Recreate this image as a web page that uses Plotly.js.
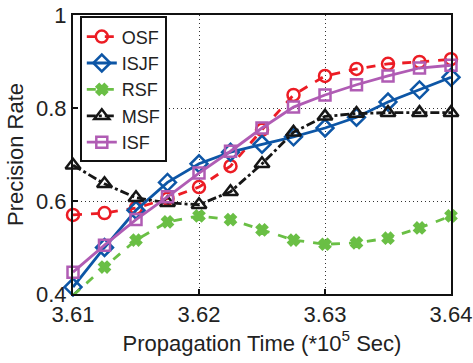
<!DOCTYPE html>
<html>
<head>
<meta charset="utf-8">
<script src="https://cdn.plot.ly/plotly-3.0.1.min.js"></script>
<style>html,body{margin:0;padding:0;background:#fff;}#chart{width:473px;height:363px;}</style>
</head>
<body>
<div id="chart"></div>
<script>
const times = [3.61, 3.6125, 3.615, 3.6175, 3.62, 3.6225, 3.625, 3.6275, 3.63, 3.6325, 3.635, 3.6375, 3.64];
const osf  = [0.57, 0.574, 0.585, 0.605, 0.63, 0.675, 0.753, 0.828, 0.869, 0.884, 0.895, 0.899, 0.905];
const isjf = [0.415, 0.50, 0.58, 0.64, 0.68, 0.705, 0.722, 0.738, 0.757, 0.78, 0.813, 0.839, 0.866];
const rsf  = [0.397, 0.458, 0.516, 0.555, 0.568, 0.56, 0.538, 0.516, 0.507, 0.51, 0.52, 0.542, 0.568];
const msf  = [0.677, 0.637, 0.607, 0.596, 0.592, 0.62, 0.68, 0.748, 0.782, 0.788, 0.79, 0.79, 0.79];
const isf  = [0.447, 0.505, 0.56, 0.609, 0.66, 0.707, 0.757, 0.802, 0.828, 0.85, 0.869, 0.886, 0.892];
const seriesNames = ['OSF', 'ISJF', 'RSF', 'MSF', 'ISF'];
const xTickVals = [3.61, 3.62, 3.63, 3.64];
const xTickText = ['3.61', '3.62', '3.63', '3.64'];
const yTickVals = [0.4, 0.6, 0.8, 1.0];
const yTickText = ['0.4', '0.6', '0.8', '1'];

const styles = [
  {color: '#ec1c24', dash: 'dash', symbol: 'circle-open', size: 12},
  {color: '#0d56a6', dash: 'solid', symbol: 'diamond-open', size: 13},
  {color: '#6abf45', dash: 'dash', symbol: 'x', size: 9},
  {color: '#161616', dash: 'dashdot', symbol: 'triangle-up-open', size: 13},
  {color: '#b05cb4', dash: 'solid', symbol: 'square-open', size: 11}
];
const data = [osf, isjf, rsf, msf, isf];
const traces = data.map((ys, i) => ({
  x: times, y: ys, name: seriesNames[i], type: 'scatter', mode: 'lines+markers',
  cliponaxis: false,
  line: {color: styles[i].color, width: 2.8, dash: styles[i].dash},
  marker: {symbol: styles[i].symbol, size: styles[i].size, color: styles[i].color,
           line: {color: styles[i].color, width: 2.5}}
}));

const font = {family: 'Liberation Sans, Arial, sans-serif', color: '#222', size: 22};
const layout = {
  width: 473, height: 363,
  margin: {l: 73, r: 22, t: 15, b: 69},
  paper_bgcolor: '#fff', plot_bgcolor: '#fff',
  font: font,
  showlegend: true,
  legend: {x: 0.018, y: 0.995, xanchor: 'left', yanchor: 'top',
           bgcolor: '#fff', bordercolor: '#111', borderwidth: 2,
           font: {family: font.family, size: 18, color: '#222'},
           tracegroupgap: 0, itemwidth: 30},
  xaxis: {
    range: [3.61, 3.64], tickvals: xTickVals, ticktext: xTickText,
    showline: true, mirror: true, linecolor: '#111', linewidth: 2,
    ticks: 'inside', ticklen: 5, tickcolor: '#111', tickwidth: 1.5,
    showgrid: true, gridcolor: '#333', griddash: '1px,3px', gridwidth: 1,
    zeroline: false, tickfont: {size: 22},
    title: {text: 'Propagation Time (*10<sup>5</sup> Sec)', font: {size: 22}, standoff: 5}
  },
  yaxis: {
    range: [0.4, 1.0], tickvals: yTickVals, ticktext: yTickText,
    showline: true, mirror: true, linecolor: '#111', linewidth: 2,
    ticks: 'inside', ticklen: 5, tickcolor: '#111', tickwidth: 1.5,
    showgrid: true, gridcolor: '#333', griddash: '1px,3px', gridwidth: 1,
    zeroline: false, tickfont: {size: 22},
    title: {text: 'Precision Rate', font: {size: 22}, standoff: 6}
  }
};
Plotly.newPlot('chart', traces, layout, {displayModeBar: false, staticPlot: true});
</script>
</body>
</html>
